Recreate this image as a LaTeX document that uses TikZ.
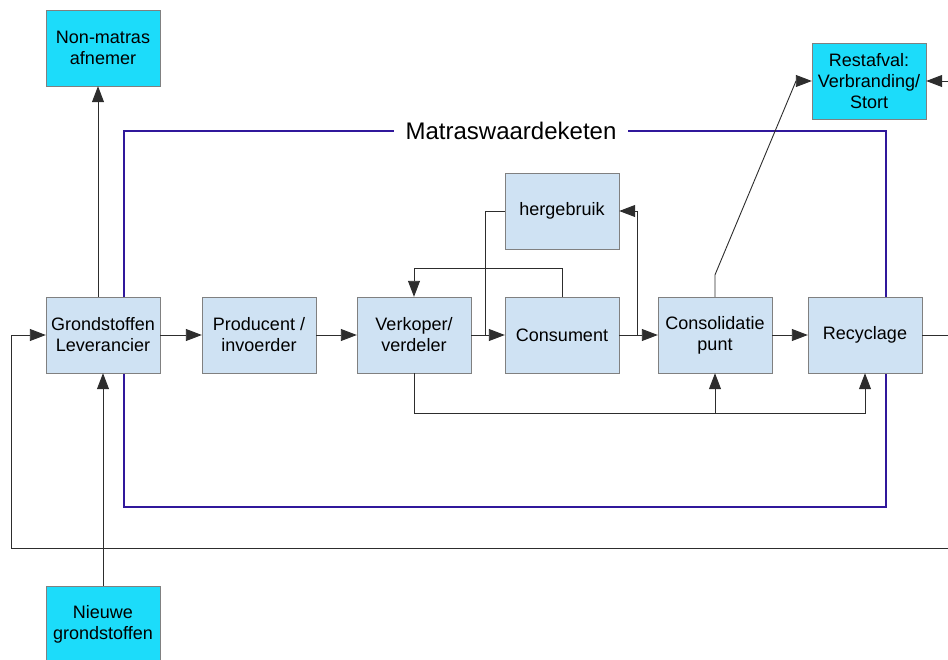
\documentclass[tikz,border=0pt]{standalone}
\usepackage{fontspec}
\setmainfont{Liberation Sans}
\usetikzlibrary{arrows.meta}
\definecolor{stageblue}{RGB}{207,226,243}
\definecolor{outercyan}{RGB}{28,220,250}
\definecolor{chainblue}{RGB}{48,24,155}
\definecolor{wire}{RGB}{45,45,45}
\tikzset{
  stage/.style={draw=gray, fill=stageblue, minimum width=114pt, minimum height=76pt,
    align=center, inner sep=2pt, font=\fontsize{18}{21}\selectfont},
  outer/.style={stage, fill=outercyan},
  flow/.style={draw=wire, line width=0.9pt, -{Triangle[length=16pt,width=12pt]}},
  link/.style={draw=wire, line width=0.9pt}
}
\begin{document}
\begin{tikzpicture}[x=1pt,y=-1pt]
\useasboundingbox (0,0) rectangle (948,659);
% value chain frame
\draw[chainblue, line width=2pt] (124,131) rectangle (886,507);
\node[fill=white, inner xsep=12pt, font=\fontsize{24}{26}\selectfont] (keten) at (511,131) {Matraswaardeketen};

% stages
\node[stage] (grond) at (103,335) {Grondstoffen\\Leverancier};
\node[stage] (producent) at (259,335) {Producent /\\invoerder};
\node[stage] (verkoper) at (414,335) {Verkoper/\\verdeler};
\node[stage] (consument) at (562,335) {Consument};
\node[stage] (hergebruik) at (562,211) {hergebruik};
\node[stage] (consolidatie) at (715,335) {Consolidatie\\punt};
\node[stage] (recyclage) at (865,335) {Recyclage};
\node[outer] (nonmatras) at (103,48) {Non-matras\\afnemer};
\node[outer] (restafval) at (869,81) {Restafval:\\Verbranding/\\Stort};
\node[outer] (nieuw) at (103,624) {Nieuwe\\grondstoffen};

\coordinate (retour) at (948,548);
\coordinate (uitrechts) at (948,335);
\coordinate (inrechts) at (948,81);
\coordinate (splits) at (715,413);

% main flow
\draw[flow] (grond) -- (producent);
\draw[flow] (producent) -- (verkoper);
\draw[flow] (verkoper) -- (consument);
\draw[flow] (consument) -- (consolidatie);
\draw[flow] (consolidatie) -- (recyclage);
\draw[link] (recyclage) -- (uitrechts);

% in and out
\draw[flow] ([xshift=-5pt]grond.north) -- ([xshift=-5pt]nonmatras.south);
\draw[flow] (nieuw.north) -- (grond.south);
\draw[flow] (retour) -| (11,335) -- (grond.west);
\draw[flow] (inrechts) -- (restafval.east);
\draw[flow] (consolidatie.north) -- ++(0,-22) -- (796,81) -- (restafval.west);

% reuse loops
\draw[link] (hergebruik.west) -| (485,335);
\draw[flow] (637,335) |- (hergebruik.east);
\draw[flow] (consument.north) -- ++(0,-28) -| (verkoper.north);
\draw[link] (verkoper.south) |- (splits);
\draw[flow] (splits) -- (consolidatie.south);
\draw[flow] (splits) -| (recyclage.south);
\end{tikzpicture}
\end{document}
